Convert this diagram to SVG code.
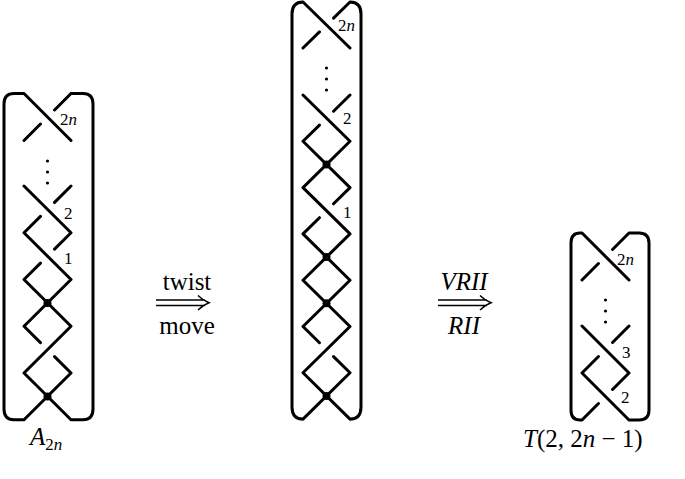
<svg xmlns="http://www.w3.org/2000/svg" width="685" height="479" viewBox="0 0 685 479">
<style>
.s{fill:none;stroke:#000;stroke-width:3;stroke-linecap:round;stroke-linejoin:round}
.a{fill:none;stroke:#000;stroke-width:1.5}
.d{fill:#000}
.l{font-size:17px;font-family:"Liberation Serif","DejaVu Serif",serif;fill:#000}
.b{font-size:25px;font-family:"Liberation Serif","DejaVu Serif",serif;fill:#000}
.i{font-style:italic}
</style>
<rect width="685" height="479" fill="#fff"/>
<g id="A2n">
<path class="s" d="M24,93.5 L71,140.5 M71,93.5 L54.55,110 M40.45,124 L24,140.5
M24,186 L71,232.8 M71,186 L54.55,202.4 M40.45,216.4 L24,232.8
M24,232.8 L71,279.5 M71,232.8 L54.55,249.1 M40.45,263.1 L24,279.5
M24,279.5 L71,326.3 M71,279.5 L24,326.3
M71,326.3 L24,373 M24,326.3 L40.45,342.6 M54.55,356.6 L71,373
M24,373 L71,419.75 M71,373 L24,419.75
M24,93.5 H14 Q4,93.5 4,104 V409 Q4,419.75 14,419.75 H24
M71,93.5 H83 Q93,93.5 93,104 V409 Q93,419.75 83,419.75 H71"/>
<circle class="d" cx="47.5" cy="302.9" r="4"/>
<circle class="d" cx="47.5" cy="396.4" r="4"/>
<circle class="d" cx="47.5" cy="161" r="1.6"/>
<circle class="d" cx="47.5" cy="172" r="1.6"/>
<circle class="d" cx="47.5" cy="183" r="1.6"/>
<text class="l" x="60" y="125">2<tspan class="i">n</tspan></text>
<text class="l" x="64" y="219">2</text>
<text class="l" x="64" y="264">1</text>
<text class="b" x="30" y="445"><tspan class="i">A</tspan><tspan font-size="17" dy="5">2<tspan class="i">n</tspan></tspan></text>
</g>
<g id="middle">
<path class="s" d="M303,2 L350,48 M350,2 L333.55,18.1 M319.45,31.9 L303,48
M303,95 L350,141.3 M350,95 L333.55,111.2 M319.45,125.1 L303,141.3
M303,141.3 L350,187.6 M350,141.3 L303,187.6
M303,187.6 L350,233.9 M350,187.6 L333.55,203.8 M319.45,217.7 L303,233.9
M303,233.9 L350,280.2 M350,233.9 L303,280.2
M303,280.2 L350,326.5 M350,280.2 L303,326.5
M350,326.5 L303,372.8 M303,326.5 L319.45,342.7 M333.55,356.6 L350,372.8
M303,372.8 L350,419.1 M350,372.8 L303,419.1
M303,2 Q292,2 292,14 V407 Q292,419.1 303,419.1
M350,2 Q361,2 361,14 V407 Q361,419.1 350,419.1"/>
<circle class="d" cx="326.5" cy="164.45" r="4"/>
<circle class="d" cx="326.5" cy="257.05" r="4"/>
<circle class="d" cx="326.5" cy="303.35" r="4"/>
<circle class="d" cx="326.5" cy="395.95" r="4"/>
<circle class="d" cx="326.5" cy="68" r="1.6"/>
<circle class="d" cx="326.5" cy="79" r="1.6"/>
<circle class="d" cx="326.5" cy="90" r="1.6"/>
<text class="l" x="338" y="31">2<tspan class="i">n</tspan></text>
<text class="l" x="343" y="124">2</text>
<text class="l" x="343" y="218">1</text>
</g>
<g id="T">
<path class="s" d="M582,233 L629,280 M629,233 L612.55,249.45 M598.45,263.55 L582,280
M582,326 L629,373 M629,326 L612.55,342.45 M598.45,356.55 L582,373
M582,373 L629,420 M629,373 L612.55,389.45 M598.45,403.55 L582,420
M582,233 H580 Q571,233 571,243 V410 Q571,420 580,420 H582
M629,233 H639 Q649,233 649,243 V410 Q649,420 639,420 H629"/>
<circle class="d" cx="605.5" cy="300" r="1.6"/>
<circle class="d" cx="605.5" cy="311" r="1.6"/>
<circle class="d" cx="605.5" cy="322" r="1.6"/>
<text class="l" x="617" y="265">2<tspan class="i">n</tspan></text>
<text class="l" x="622" y="358">3</text>
<text class="l" x="621" y="403">2</text>
<text class="b" x="523" y="447"><tspan class="i">T</tspan>(2, 2<tspan class="i">n</tspan> − 1)</text>
</g>
<g id="connectors">
<path class="a" d="M156,300 H205 M156,305.5 H205 M198,295.5 Q203,300.5 209,302.8 Q203,305 198,310"/>
<path class="a" d="M438,300 H487 M438,305.5 H487 M480,295.5 Q485,300.5 491,302.8 Q485,305 480,310"/>
<text class="b" x="187" y="290" text-anchor="middle">twist</text>
<text class="b" x="187" y="334" text-anchor="middle">move</text>
<text class="b i" x="464" y="290" text-anchor="middle">VRII</text>
<text class="b i" x="464" y="334" text-anchor="middle">RII</text>
</g>
</svg>
